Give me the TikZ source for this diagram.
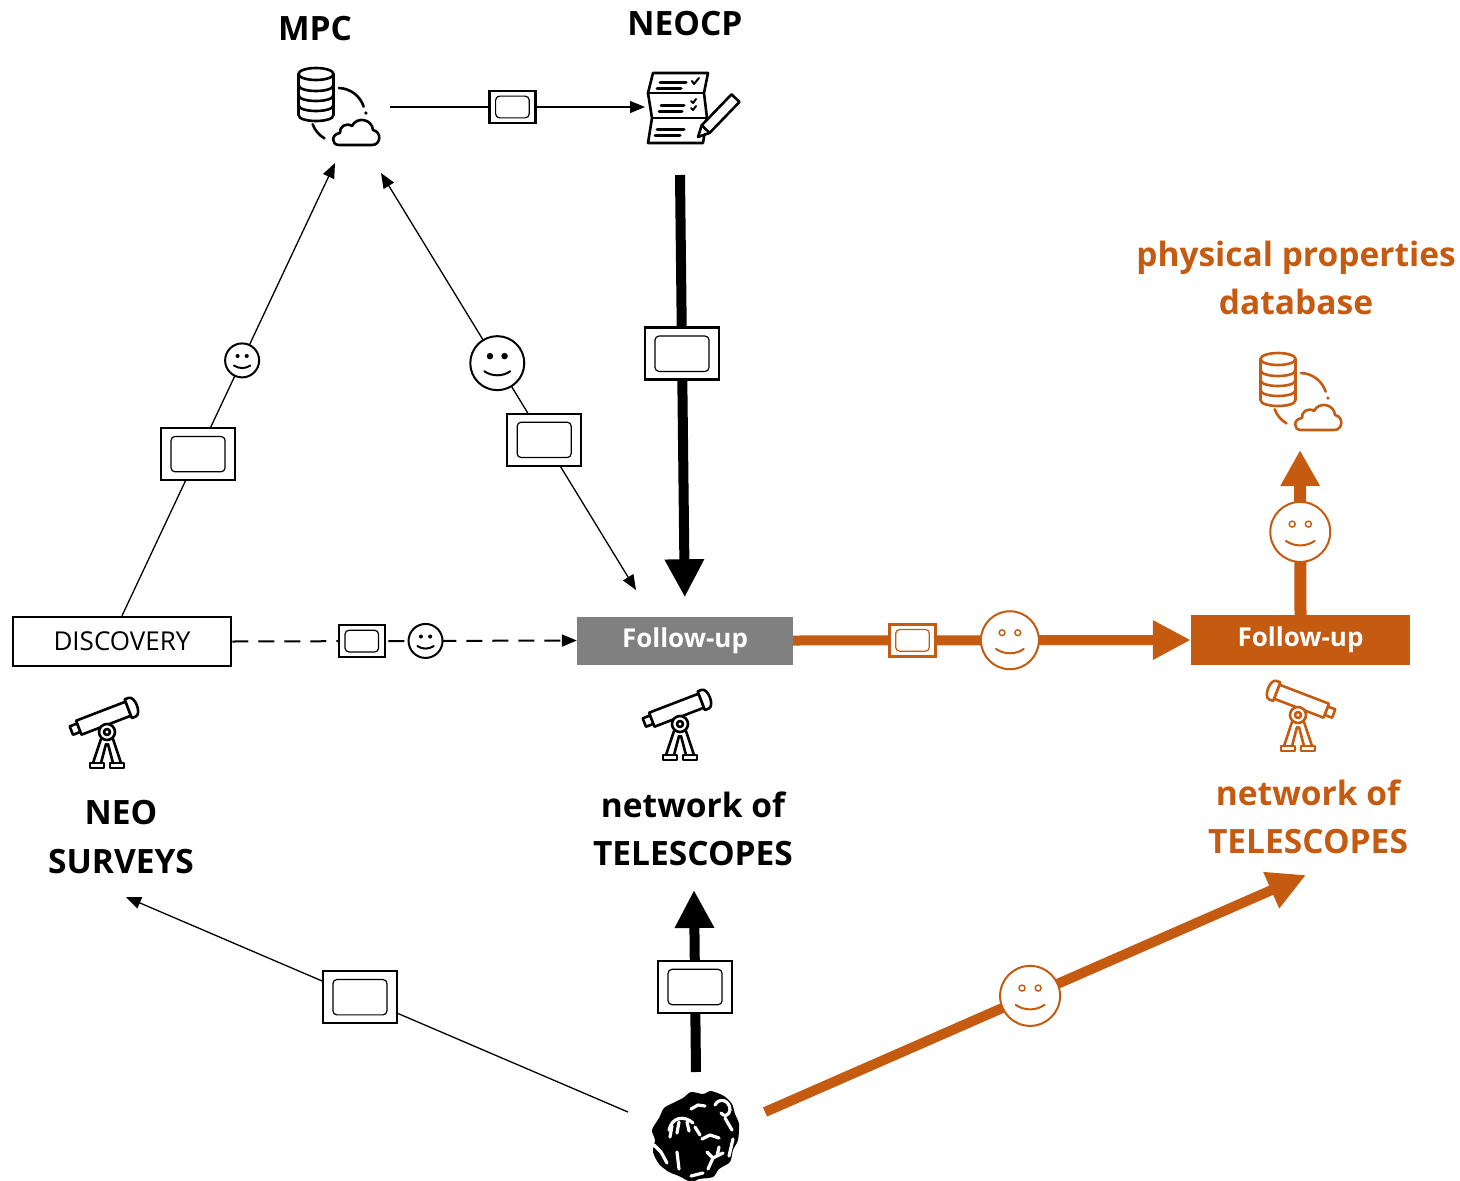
\documentclass[tikz,border=0pt]{standalone}
\usepackage{fontspec}
\setmainfont{Open Sans}
\usetikzlibrary{arrows.meta,calc}
\definecolor{rust}{HTML}{C55A11}
\definecolor{midgray}{HTML}{808080}

\tikzset{
  ink/.style={line width=2.6pt, line join=round, line cap=round},
  % small screen symbol: width/height/colour
  pics/screen/.style args={#1/#2/#3}{code={
    \draw[#3, line width=2.5pt, fill=white] (-#1/2,-#2/2) rectangle (#1/2,#2/2);
    \draw[#3, line width=1.2pt, rounded corners=4pt] (-0.365*#1,-0.34*#2) rectangle (0.365*#1,0.34*#2);
  }},
  % smiling face with solid eyes: radius/colour
  pics/smiley/.style args={#1/#2}{code={
    \draw[#2, line width=2pt, fill=white] (0,0) circle ({#1*1pt});
    \fill[#2] (-0.27*#1,-0.26*#1) circle ({0.12*#1*1pt}) (0.27*#1,-0.26*#1) circle ({0.12*#1*1pt});
    \draw[#2, line width=2pt, line cap=round] (-0.48*#1,0.3*#1) .. controls (-0.2*#1,0.5*#1) and (0.2*#1,0.5*#1) .. (0.48*#1,0.3*#1);
  }},
  % smiling face with ring eyes: radius/colour
  pics/ringsmiley/.style args={#1/#2}{code={
    \draw[#2, line width=2pt, fill=white] (0,0) circle ({#1*1pt});
    \draw[#2, line width=1.4pt, fill=white] (-0.27*#1,-0.26*#1) circle ({0.1*#1*1pt}) (0.27*#1,-0.26*#1) circle ({0.1*#1*1pt});
    \draw[#2, line width=2pt, line cap=round] (-0.48*#1,0.3*#1) .. controls (-0.2*#1,0.5*#1) and (0.2*#1,0.5*#1) .. (0.48*#1,0.3*#1);
  }},
  % database with cloud sync
  pics/dbcloud/.style={code={
    \begin{scope}[shift={(-22,-12)}]
      \draw[ink, fill=white] (-17.5,-21) -- (-17.5,20) .. controls (-17.5,28) and (17.5,28) .. (17.5,20) -- (17.5,-21);
      \draw[ink, fill=white] (0,-21) ellipse [x radius=17.5pt, y radius=6pt];
      \foreach \yy in {-10,0,10}
        \draw[ink] (-17.5,\yy) .. controls (-17.5,\yy+8) and (17.5,\yy+8) .. (17.5,\yy);
    \end{scope}
    \draw[ink] ($(0,8)+(88:27pt)$) arc[start angle=88, end angle=18, radius=27pt];
    \fill ($(0,8)+(4:28pt)$) circle (1.8pt);
    \draw[ink] ($(0,8)+(200:27pt)$) arc[start angle=200, end angle=240, radius=27pt];
    \begin{scope}[shift={(17,25)}]
      \draw[ink, fill=white] (-16,13) -- (17,13) .. controls (26,13) and (27,0) .. (18,-2)
        .. controls (17,-13) and (2,-16) .. (-3,-6) .. controls (-9,-10) and (-16,-5) .. (-15,1)
        .. controls (-24,2) and (-24,13) .. (-16,13) -- cycle;
    \end{scope}
  }},
  % telescope on a tripod, origin at the mount
  pics/spyglass/.style={code={
    \draw[ink] (-6,7) -- (-14,31) (-1,12) -- (-6,31) (1,12) -- (6,31) (6,7) -- (14,31);
    \draw[ink] (-17,31) rectangle (-3,36) (3,31) rectangle (17,36);
    \begin{scope}[shift={(-3,-14)}, rotate=21]
      \draw[ink, fill=white] (-35,-4.5) rectangle (-27,4.5);
      \draw[ink, fill=white] (-27,-7.5) rectangle (26,7.5);
      \draw[ink, fill=white] (26,-10) -- (30,-10) .. controls (37,-10) and (37,10) .. (30,10) -- (26,10) -- cycle;
    \end{scope}
    \draw[ink, fill=white] (0,0) circle (8pt);
    \draw[ink] (0,0) circle (3pt);
  }},
  % folded checklist with pencil
  pics/checklist/.style={code={
    \draw[ink, fill=white] (-37,-35) -- (18,-35) -- (14,-15) -- (17,10) -- (13,35) -- (-42,35) -- (-38,10) -- (-42,-15) -- cycle;
    \draw[ink] (-42,-15) -- (14,-15) (-38,10) -- (17,10);
    \draw[ink, line width=3pt] (-30,-26) -- (-4,-26) (-33,-20) -- (-9,-20)
      (-29,-3) -- (-6,-3) (-31,3) -- (-8,3)
      (-33,21) -- (-6,21) (-35,27) -- (-10,27);
    \draw[ink, line width=2pt] (2,-27) -- (4,-24) -- (9,-30);
    \draw[ink, line width=2pt] (1,-7) -- (3,-5) -- (6,-9) (1,0) -- (3,2) -- (6,-2);
    \begin{scope}[shift={(8,29)}, rotate=46]
      \draw[ink, fill=white] (0,0) -- (11,-5.5) -- (54,-5.5) -- (54,5.5) -- (11,5.5) -- cycle;
      \draw[ink] (11,-5.5) -- (11,5.5);
    \end{scope}
  }},
  % asteroid
  pics/rock/.style={code={
    \fill plot[smooth cycle, tension=0.45] coordinates {(-14,-38) (-6,-44) (6,-42) (14,-45) (27,-40) (35,-32) (38,-22) (42,-12) (41,4) (36,14) (33,26) (22,33) (16,41) (2,43) (-6,46) (-18,40) (-28,36) (-38,28) (-44,16) (-42,4) (-45,-6) (-38,-18) (-33,-28) (-24,-33)};
    \begin{scope}[white, line width=3.2pt, line cap=round, line join=round]
      \draw (-28,-6) .. controls (-25,-19) and (-13,-21) .. (-4,-13);
      \draw (-25,-10) -- (-27,1) (-18,-14) -- (-20,-3) (-10,-14) -- (-8,-5);
      \draw (-6,-27) -- (1,-31) -- (8,-30);
      \draw (18,-31) .. controls (22,-39) and (33,-36) .. (33,-26) .. controls (32,-20) and (27,-19) .. (24,-23);
      \draw (28,-18) -- (35,-6);
      \draw (5,3) -- (13,-1) -- (22,2);
      \draw (10,16) -- (16,22) -- (11,33) (16,22) -- (26,17) (20,20) -- (22,11);
      \draw (-43,9) -- (-36,16) -- (-30,27);
      \draw (-20,16) -- (-18,33);
      \draw (-6,40) -- (6,37);
      \draw (36,3) -- (32,20);
      \draw (-2,-9) -- (3,-1);
    \end{scope}
  }},
}

\begin{document}
\begin{tikzpicture}[x=1pt, y=-1pt,
  conn/.style={line width=1.3pt},
  tipS/.style={-{Triangle[length=15pt,width=12pt]}},
  heavy/.style={line width=10pt, -{Triangle[length=38pt,width=37pt]}},
  lbl/.style={font=\fontsize{33.5}{48.5}\selectfont\bfseries, align=center, inner sep=0pt},
  stage/.style={minimum height=48pt, inner sep=0pt, font=\fontsize{26}{30}\selectfont\bfseries, text=white},
]
\useasboundingbox (0,0) rectangle (1460,1181);

% ---- boxes and labels
\node[draw, line width=2.5pt, minimum width=218pt, minimum height=49pt, inner sep=0pt,
      font=\fontsize{26}{30}\selectfont] (disc) at (122,641.5) {DISCOVERY};
\node[stage, fill=midgray, minimum width=216pt] (fu1) at (685,640.5) {Follow-up};
\node[stage, fill=rust, minimum width=219pt, minimum height=50pt] (fu2) at (1300.5,640) {Follow-up};

\node[lbl] (mpcLabel) at (315,29) {MPC};
\node[lbl] (neocpLabel) at (685,24) {NEOCP};
\node[lbl] (surveys) at (121,837) {NEO\\SURVEYS};
\node[lbl] (network) at (693,829) {network of\\TELESCOPES};
\node[lbl, text=rust] (onetwork) at (1308,817) {network of\\TELESCOPES};
\node[lbl, text=rust] (physdb) at (1296,278) {physical properties\\database};

% ---- connector end points
\coordinate (mpcOut) at (390,107);
\coordinate (neocpIn) at (645,107);
\coordinate (neocpOut) at (680,175);
\coordinate (mpcInL) at (335,163);
\coordinate (mpcInR) at (381,173);
\coordinate (fuSide) at (636,590);
\coordinate (astL) at (628,1112);
\coordinate (astTop) at (696,1072);
\coordinate (astR) at (765,1112);
\coordinate (survIn) at (126,897);
\coordinate (netIn) at (694,890);
\coordinate (onetIn) at (1306,875);
\coordinate (dbIn) at (1300,450);

% ---- connectors
\draw[conn, tipS] (mpcOut) -- (neocpIn);
\draw[heavy, shorten >=19pt] (neocpOut) -- (fu1.north);
\draw[conn, tipS] (disc.north) -- (mpcInL);
\draw[conn, {Triangle[length=15pt,width=12pt]}-{Triangle[length=15pt,width=12pt]}] (mpcInR) -- (fuSide);
\draw[line width=2pt, dash pattern=on 16pt off 10pt, tipS] (disc.east) -- (fu1.west);
\draw[rust, heavy] (fu1.east) -- (fu2.west);
\draw[rust, line width=12pt, -{Triangle[length=36pt,width=37pt]}] (fu2.north) -- (dbIn);
\draw[conn, tipS] (astL) -- (survIn);
\draw[heavy] (astTop) -- (netIn);
\draw[rust, heavy] (astR) -- (onetIn);

% ---- symbols on the connectors
\pic at ($(mpcOut)!0.48!(neocpIn)$) {screen=46/32/black};
\pic at ($(neocpOut)!0.405!(fu1.north)$) {screen=74/52/black};
\pic at ($(disc.north)!0.357!(mpcInL)$) {screen=74/52/black};
\pic at ($(disc.north)!0.564!(mpcInL)$) {smiley=17/black};
\pic at ($(mpcInR)!0.456!(fuSide)$) {smiley=27/black};
\pic at ($(mpcInR)!0.64!(fuSide)$) {screen=74/52/black};
\pic at ($(disc.east)!0.376!(fu1.west)$) {screen=46/32/black};
\pic at ($(disc.east)!0.561!(fu1.west)$) {smiley=17/black};
\pic at ($(fu1.east)!0.30!(fu2.west)$) {screen=46/32/rust};
\pic at ($(fu1.east)!0.545!(fu2.west)$) {ringsmiley=29/rust};
\pic at ($(fu2.north)!0.503!(dbIn)$) {ringsmiley=30/rust};
\pic at ($(astL)!0.534!(survIn)$) {screen=74/52/black};
\pic at ($(astTop)!0.467!(netIn)$) {screen=74/52/black};
\pic at ($(astR)!0.49!(onetIn)$) {ringsmiley=30/rust};

% ---- icons
\pic at (338,107) {dbcloud};
\pic[rust] at (1300,392) {dbcloud};
\pic at (690,108) {checklist};
\pic at (107,732) {spyglass};
\pic at (680,724) {spyglass};
\pic[rust, xscale=-1] at (1298,715) {spyglass};
\pic at (697,1136) {rock};
\end{tikzpicture}
\end{document}
